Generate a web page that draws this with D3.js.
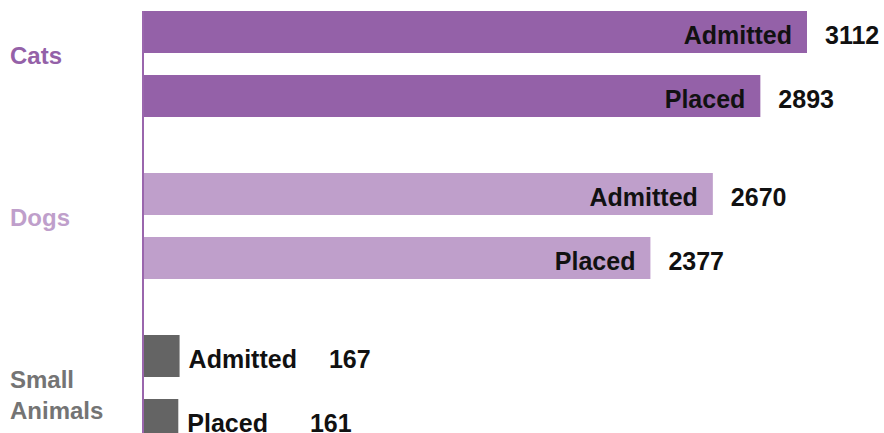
<!DOCTYPE html>
<html>
  <head>
    <meta charset="utf-8">
    <script src="https://d3js.org/d3.v7.min.js"></script>
    <style>
      body { margin: 0; background: #fff; }
      svg text { font-family: "Liberation Sans", Arial, sans-serif; font-weight: bold; }
      .bar-label, .value-label { font-size: 25px; fill: #111; }
      .group-label { font-size: 24px; }
    </style>
  </head>
  <body>
    <svg width="884" height="433"></svg>
    <script>
      // chart values
      const groups = ['Cats', 'Dogs', 'Small Animals'];
      const statuses = ['Admitted', 'Placed'];
      const admitted = [3112, 2670, 167];
      const placed = [2893, 2377, 161];

      const barColor = { 'Cats': '#9461a8', 'Dogs': '#bf9fcb', 'Small Animals': '#646464' };
      const textColor = { 'Cats': '#9461a8', 'Dogs': '#bf9fcb', 'Small Animals': '#747474' };

      const svg = d3.select('svg');

      const rows = [];
      groups.forEach((g, i) => {
        rows.push({ group: g, status: 'Admitted', value: admitted[i] });
        rows.push({ group: g, status: 'Placed', value: placed[i] });
      });

      const axisX = 143;
      const xScale = d3.scaleLinear()
        .domain([0, d3.max(admitted)])
        .range([axisX + 1, 807]);

      const yGroup = d3.scaleBand()
        .domain(groups)
        .range([11, 11 + 162 * groups.length]);

      const yInner = d3.scaleBand()
        .domain(statuses)
        .range([0, 106])
        .paddingInner(0.344);

      // bars
      svg.selectAll('rect.bar').data(rows)
        .enter().append('rect')
          .attr('class', 'bar')
          .attr('x', xScale(0))
          .attr('y', d => yGroup(d.group) + yInner(d.status))
          .attr('width', d => xScale(d.value) - xScale(0))
          .attr('height', yInner.bandwidth())
          .attr('fill', d => barColor[d.group]);

      // axis line
      svg.append('line')
        .attr('x1', axisX).attr('x2', axisX)
        .attr('y1', yGroup.range()[0]).attr('y2', 433)
        .attr('stroke', '#9a66ad')
        .attr('stroke-width', 2);

      // labels on the bars
      rows.forEach(d => {
        const yBase = yGroup(d.group) + yInner(d.status) + yInner.bandwidth() / 2 + 12;
        const end = xScale(d.value);
        const lab = svg.append('text')
          .attr('class', 'bar-label')
          .attr('y', yBase)
          .text(d.status);
        const w = lab.node().getComputedTextLength();
        let valueX;
        if (end - xScale(0) > w + 30) {
          lab.attr('x', end - 15).attr('text-anchor', 'end');
          valueX = end + 18;
        } else {
          lab.attr('x', end + 9);
          valueX = end + 9 + w + (d.status === 'Placed' ? 42 : 32);
        }
        svg.append('text')
          .attr('class', 'value-label')
          .attr('x', valueX)
          .attr('y', yBase)
          .text(d.value);
      });

      // group labels
      groups.forEach(g => {
        const center = yGroup(g) + 53;
        const lines = g.split(' ');
        const t = svg.append('text')
          .attr('class', 'group-label')
          .attr('fill', textColor[g]);
        lines.forEach((ln, i) => {
          t.append('tspan')
            .attr('x', 10)
            .attr('y', center + i * 31)
            .text(ln);
        });
      });
    </script>
  </body>
</html>
